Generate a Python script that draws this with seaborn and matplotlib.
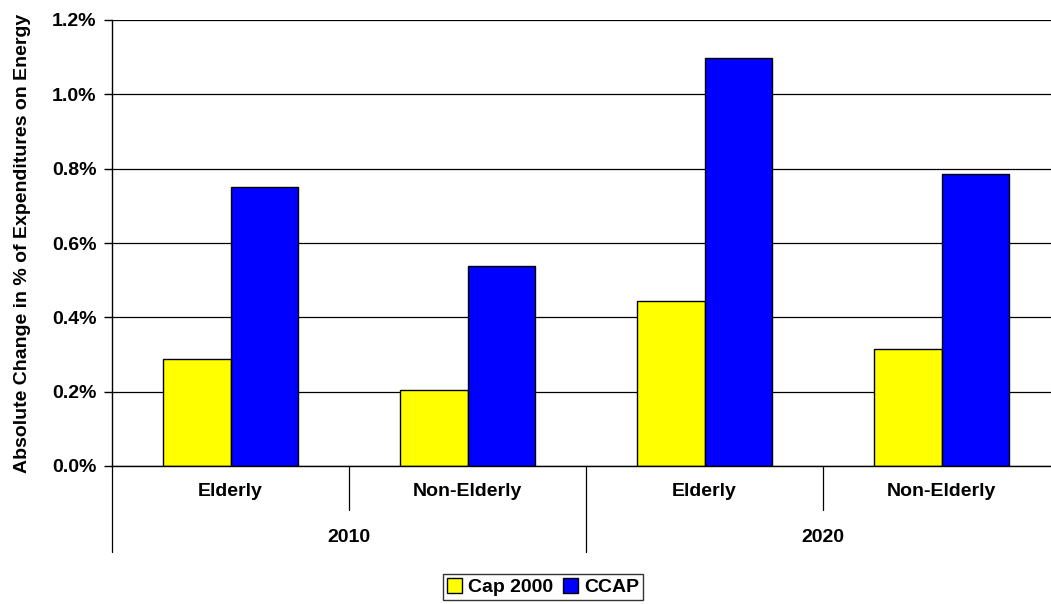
import pandas as pd
import matplotlib.pyplot as plt
import matplotlib.transforms as mtransforms
from matplotlib.patches import Patch
import seaborn as sns

# data (share of expenditures, %)
years = ['2010', '2010', '2020', '2020']
groups = ['Elderly', 'Non-Elderly', 'Elderly', 'Non-Elderly']
cap2000 = [0.288, 0.205, 0.444, 0.316]
ccap = [0.751, 0.538, 1.098, 0.786]
series = ['Cap 2000', 'CCAP']
colors = ['#FFFF00', '#0000FF']

keys = [f'{y} {g}' for y, g in zip(years, groups)]
df = pd.DataFrame({
    'key': keys * 2,
    'series': ['Cap 2000'] * 4 + ['CCAP'] * 4,
    'value': cap2000 + ccap,
})

sns.set_theme(style="white")
plt.rcParams['font.family'] = ['Liberation Sans', 'DejaVu Sans']
plt.rcParams['font.weight'] = 'bold'
plt.rcParams['text.color'] = 'black'
plt.rcParams['axes.labelcolor'] = 'black'
plt.rcParams['ytick.color'] = 'black'
FS = 14

fig = plt.figure(figsize=(10.51, 6.04), dpi=100)
ax = fig.add_axes([112 / 1051, 138 / 604, 948 / 1051, 446 / 604])

sns.barplot(data=df, x='key', y='value', hue='series', order=keys,
            hue_order=series, palette=colors, width=0.57, gap=0,
            edgecolor='black', linewidth=1, saturation=1, legend=False, ax=ax)

ax.set_xlim(-0.5, 3.5)
ax.set_ylim(0, 1.2)
ax.set_yticks([0, 0.2, 0.4, 0.6, 0.8, 1.0, 1.2])
ax.set_yticklabels([f'{v:.1f}%' for v in ax.get_yticks()],
                   fontsize=FS, fontweight='bold')
ax.yaxis.grid(True, color='black', linewidth=0.9)
ax.set_axisbelow(True)
ax.tick_params(axis='y', left=True, length=6, width=1, color='black',
               labelcolor='black', pad=5)
ax.set_xticks([])
ax.set_xlabel('')
ax.set_ylabel('Absolute Change in % of Expenditures on Energy',
              fontsize=FS, fontweight='bold', labelpad=15)
for s in ['top', 'right']:
    ax.spines[s].set_visible(False)
ax.spines['left'].set_color('black')
ax.spines['bottom'].set_color('black')
ax.spines['left'].set_linewidth(1)
ax.spines['bottom'].set_linewidth(1)

# two-level category axis
trans = mtransforms.blended_transform_factory(ax.transData, fig.transFigure)
low1 = 1 - 510 / 604
low2 = 1 - 552 / 604
top = 1 - 466 / 604
for i in range(5):
    x = i - 0.5
    bottom = low2 if i % 2 == 0 else low1
    ax.plot([x, x], [top, bottom], color='black', linewidth=0.9,
            transform=trans, clip_on=False)
for i, g in enumerate(groups):
    ax.text(i, 1 - 492 / 604, g, transform=trans, ha='center', va='center',
            fontsize=FS, fontweight='bold', color='black')
for j, y in enumerate(['2010', '2020']):
    ax.text(2 * j + 0.5, 1 - 537 / 604, y, transform=trans, ha='center',
            va='center', fontsize=FS, fontweight='bold', color='black')

handles = [Patch(facecolor=c, edgecolor='black', linewidth=1) for c in colors]
leg = fig.legend(handles, series, loc='center', bbox_to_anchor=(543 / 1051, 1 - 587 / 604),
                 ncol=2, frameon=True, fancybox=False, fontsize=FS,
                 handlelength=0.8, handleheight=0.8, handletextpad=0.3,
                 columnspacing=0.5, borderpad=0.2, borderaxespad=0)
leg.get_frame().set_edgecolor('black')
leg.get_frame().set_linewidth(1)
for t in leg.get_texts():
    t.set_fontweight('bold')
    t.set_color('black')

fig.savefig('out.png', dpi=100)
